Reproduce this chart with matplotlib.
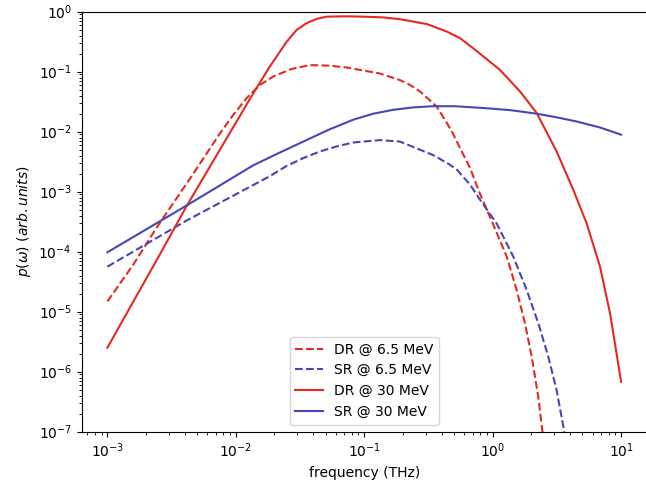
import numpy as np
import matplotlib
matplotlib.use("Agg")
import matplotlib.pyplot as plt

# values, as log10(frequency / THz) and log10(p)
dr65_logf = [-3.0, -2.80, -2.617, -2.35, -2.124, -2.02, -1.916, -1.812, -1.709, -1.566,
             -1.423, -1.267, -1.137, -0.878, -0.722, -0.644, -0.566, -0.488, -0.436, -0.358,
             -0.307, -0.255, -0.177, -0.10, 0.005, 0.109, 0.187, 0.251, 0.304, 0.355,
             0.386, 0.42]
dr65_logp = [-4.83, -4.22, -3.60, -2.76, -2.03, -1.72, -1.44, -1.22, -1.08, -0.955,
             -0.89, -0.90, -0.93, -1.03, -1.14, -1.22, -1.33, -1.48, -1.58, -1.85,
             -2.04, -2.27, -2.60, -3.03, -3.55, -4.08, -4.64, -5.19, -5.75, -6.42,
             -6.97, -7.6]

sr65_logf = [-3.0, -2.383, -1.734, -1.604, -1.475, -1.345, -1.215, -1.086, -0.878, -0.722,
             -0.670, -0.463, -0.333, -0.28, -0.177, -0.10, 0.031, 0.160, 0.265, 0.355,
             0.433, 0.498, 0.555, 0.6]
sr65_logp = [-4.25, -3.48, -2.74, -2.57, -2.44, -2.33, -2.245, -2.18, -2.14, -2.165,
             -2.21, -2.39, -2.55, -2.63, -2.88, -3.13, -3.53, -4.08, -4.64, -5.19,
             -5.75, -6.31, -6.97, -7.6]

dr30_logf = [-3.0, -2.577, -2.383, -2.124, -1.994, -1.864, -1.734, -1.604, -1.527, -1.449,
             -1.371, -1.293, -1.137, -1.008, -0.852, -0.722, -0.514, -0.358, -0.255, -0.151,
             0.057, 0.213, 0.343, 0.498, 0.628, 0.732, 0.836, 0.914, 1.0]
dr30_logp = [-5.60, -3.99, -3.24, -2.30, -1.83, -1.36, -0.91, -0.50, -0.305, -0.19,
             -0.12, -0.083, -0.077, -0.083, -0.095, -0.125, -0.205, -0.33, -0.44, -0.61,
             -0.97, -1.33, -1.69, -2.33, -2.97, -3.53, -4.25, -5.03, -6.17]

sr30_logf = [-3.0, -2.383, -1.864, -1.67, -1.475, -1.28, -1.086, -0.93, -0.774, -0.618,
             -0.463, -0.3, -0.073, 0.135, 0.343, 0.498, 0.654, 0.836, 1.0]
sr30_logp = [-4.01, -3.23, -2.56, -2.36, -2.165, -1.97, -1.80, -1.70, -1.635, -1.595,
             -1.575, -1.575, -1.605, -1.64, -1.70, -1.76, -1.83, -1.93, -2.05]

red = "#e6291e"
blue = "#4646b6"

fig = plt.figure(figsize=(6.46, 4.92), dpi=100)
ax = fig.add_axes([81.7 / 646, 1 - 431.7 / 492, (646.8 - 81.7) / 646, (431.7 - 11.7) / 492])

ax.plot(np.power(10.0, dr65_logf), np.power(10.0, dr65_logp), color=red, linestyle="--", label="DR @ 6.5 MeV")
ax.plot(np.power(10.0, sr65_logf), np.power(10.0, sr65_logp), color=blue, linestyle="--", label="SR @ 6.5 MeV")
ax.plot(np.power(10.0, dr30_logf), np.power(10.0, dr30_logp), color=red, label="DR @ 30 MeV")
ax.plot(np.power(10.0, sr30_logf), np.power(10.0, sr30_logp), color=blue, label="SR @ 30 MeV")

ax.set_xscale("log")
ax.set_yscale("log")
ax.set_xlim(10 ** -3.2, 10 ** 1.2)
ax.set_ylim(1e-7, 1)
ax.set_xlabel("frequency (THz)")
ax.set_ylabel(r"$p(\omega)$ $(arb. units)$")
ax.legend(loc="lower center")

fig.savefig("out.png", dpi=100)
